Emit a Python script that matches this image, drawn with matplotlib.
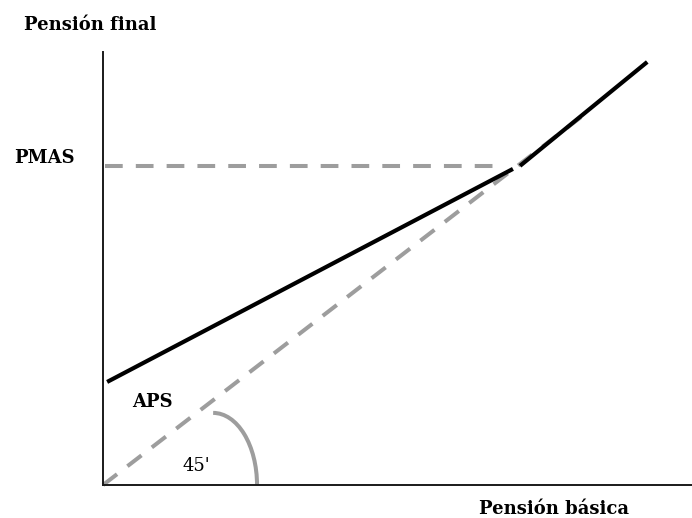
import matplotlib
matplotlib.use("Agg")
import matplotlib.pyplot as plt
from matplotlib.patches import Arc

# data (arbitrary units, x = pensión básica, y = pensión final)
tramo1_x = [0.7, 69.6]
tramo1_y = [23.8, 73.0]
tramo2_x = [70.8, 92.4]
tramo2_y = [73.7, 97.7]
pmas_x = [0.3, 67.9]
pmas_y = [73.7, 73.7]
diag_x = [0.0, 82.7]
diag_y = [0.0, 86.6]

gris = "#9d9d9d"
fuente = "DejaVu Serif"

fig = plt.figure(figsize=(6.92, 5.18), dpi=100)
ax = fig.add_axes([103/692, 33/518, 589/692, 433/518])
ax.set_xlim(0, 100)
ax.set_ylim(0, 100)

ax.plot(diag_x, diag_y, color=gris, lw=2.9, ls=(0, (4.4, 3.25)),
        dash_capstyle="butt", clip_on=False)
ax.plot(pmas_x, pmas_y, color=gris, lw=2.9, ls=(0, (4.4, 3.25)),
        dash_capstyle="butt", clip_on=False)
ax.plot(tramo1_x, tramo1_y, color="black", lw=3.0, solid_capstyle="butt")
ax.plot(tramo2_x, tramo2_y, color="black", lw=3.0, solid_capstyle="butt")

# arco del angulo de 45
ax.add_patch(Arc((18.7, 0), 14.9, 33.3, theta1=0, theta2=90,
                 color=gris, lw=2.9))

for s in ["top", "right"]:
    ax.spines[s].set_visible(False)
for s in ["left", "bottom"]:
    ax.spines[s].set_color("#1a1a1a")
    ax.spines[s].set_linewidth(1.4)
ax.set_xticks([])
ax.set_yticks([])

kw = dict(family=fuente, fontsize=13, fontweight="bold", ha="center", va="center")
fig.text(90/692, 1 - 25/518, "Pensión final", **kw)
fig.text(44/692, 1 - 158/518, "PMAS", **kw)
fig.text(152/692, 1 - 402/518, "APS", **kw)
fig.text(554/692, 1 - 509/518, "Pensión básica", **kw)
fig.text(196/692, 1 - 466/518, "45'", family=fuente, fontsize=13,
         ha="center", va="center")

fig.savefig("out.png", dpi=100)
